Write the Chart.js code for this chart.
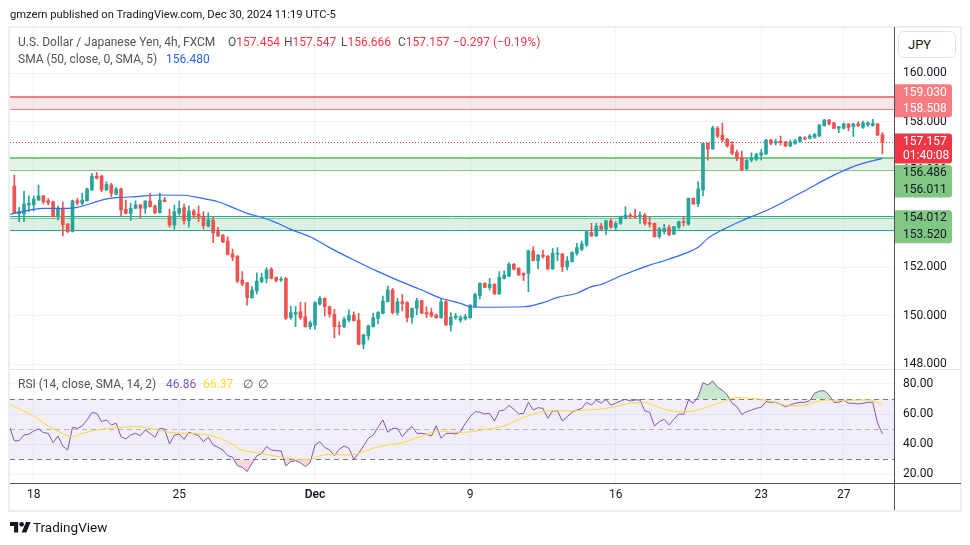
<!DOCTYPE html>
<html>
<head>
<meta charset="utf-8">
<script src="https://cdn.jsdelivr.net/npm/chart.js@4.4.1/dist/chart.umd.min.js"></script>
<style>
html,body{margin:0;padding:0;background:#fff;width:970px;height:545px;overflow:hidden;font-family:Roboto,"Noto Sans",sans-serif;}
#wrap{position:relative;width:970px;height:545px;}
canvas{position:absolute;left:0;top:0;}
.t{position:absolute;white-space:nowrap;font-size:12px;line-height:16px;color:#131722;}
.frame{position:absolute;left:8px;top:26px;width:954px;height:486px;box-sizing:border-box;border:2px solid #eceef2;}
.vline{position:absolute;left:894px;top:27px;width:1px;height:483px;background:#50535e;}
.hline{position:absolute;left:10px;top:483px;width:951px;height:1px;background:#50535e;}
.sep{position:absolute;left:10px;top:369px;width:951px;height:1px;background:#e0e3eb;}
.jpy{position:absolute;left:898px;top:31px;width:58px;height:27px;box-sizing:border-box;border:1px solid #e0e3eb;border-radius:6px;font-size:13px;line-height:25px;padding-left:9px;color:#131722;background:#fff;}
</style>
</head>
<body>
<div id="wrap">
  <div class="frame"></div>
  <canvas id="main" width="970" height="545"></canvas>
  <canvas id="rsi" width="970" height="545"></canvas>
  <div class="sep"></div>
  <div class="vline"></div>
  <div class="hline"></div>
  <div class="jpy">JPY</div>

  <div class="t" style="left:10px;top:7px;font-size:11.2px;">gmzern published on TradingView.com, Dec 30, 2024 11:19 UTC-5</div>

  <div class="t" style="left:18px;top:34px;color:#50535e;">U.S. Dollar / Japanese Yen, 4h, FXCM</div>
  <div class="t" style="left:228px;top:34px;color:#50535e;">O<span style="color:#f23645">157.454</span></div>
  <div class="t" style="left:284px;top:34px;color:#50535e;">H<span style="color:#f23645">157.547</span></div>
  <div class="t" style="left:341px;top:34px;color:#50535e;">L<span style="color:#f23645">156.666</span></div>
  <div class="t" style="left:398px;top:34px;color:#50535e;">C<span style="color:#f23645">157.157</span></div>
  <div class="t" style="left:453px;top:34px;color:#f23645;">−0.297 (−0.19%)</div>

  <div class="t" style="left:18px;top:51px;color:#50535e;">SMA (50, close, 0, SMA, 5)</div>
  <div class="t" style="left:166px;top:51px;color:#2962ff;">156.480</div>

  <div class="t" style="left:18px;top:376px;color:#50535e;">RSI (14, close, SMA, 14, 2)</div>
  <div class="t" style="left:166px;top:376px;color:#7e57c2;">46.86</div>
  <div class="t" style="left:203px;top:376px;color:#fdd835;">66.37</div>
  <div class="t" style="left:243px;top:376px;color:#50535e;">∅</div>
  <div class="t" style="left:258px;top:376px;color:#50535e;">∅</div>

  <svg style="position:absolute;left:10px;top:522px;" width="21" height="10.5" viewBox="0 4 36 18"><path d="M14 22H7V11H0V4h14v18zM28 22h-8l7.5-18h8L28 22z" fill="#131722"/><circle cx="20" cy="8" r="4" fill="#131722"/></svg>
  <div class="t" style="left:33px;top:519px;font-size:13.5px;">TradingView</div>
</div>

<script>
// ---------- DATA ----------
const candleOpen = [155.34,154.19,154.19,154.56,154.56,154.76,154.93,154.73,154.69,154.07,
154.42,153.77,153.46,154.73,154.63,154.73,155.18,155.75,155.75,155.18,
155.38,155.01,155.22,154.38,154.21,154.42,154.56,154.42,154.72,154.52,
154.24,154.76,154.10,153.73,154.21,154.45,153.91,154.31,154.19,154.07,
153.69,153.94,153.46,153.32,153.07,152.54,152.45,151.46,151.35,150.73,
151.02,151.40,151.53,151.91,151.58,151.46,151.53,149.91,150.06,150.16,
149.95,149.54,149.60,150.47,150.71,150.36,150.05,149.58,149.54,149.81,
150.02,149.81,148.81,149.16,149.54,149.88,150.09,150.57,151.05,150.12,
150.57,150.53,149.92,150.30,150.61,150.12,150.12,150.02,149.91,150.57,
149.61,149.91,149.81,149.86,149.91,150.36,150.82,151.33,151.15,151.29,
150.89,151.53,151.62,152.12,151.95,151.74,151.74,152.67,152.26,152.49,
152.45,151.92,152.53,152.54,152.01,152.22,152.56,152.73,152.91,153.42,
153.28,153.69,153.56,153.90,153.64,153.80,154.01,154.14,154.10,154.10,
154.14,153.83,153.80,153.25,153.46,153.64,153.35,153.64,153.87,153.77,
154.83,154.60,155.18,157.10,156.87,157.72,157.44,157.27,157.03,156.72,
156.52,156.05,156.41,156.44,156.62,156.66,157.24,157.12,157.19,157.17,
156.99,157.10,157.17,157.33,157.31,157.34,157.40,157.83,158.06,157.95,
157.72,157.72,157.90,157.79,157.90,157.76,157.86,157.83,157.90,157.454];

const candleHigh = [155.79,154.46,155.13,154.93,154.93,155.38,154.95,154.83,154.72,154.52,
154.69,153.80,154.76,154.83,155.04,155.25,155.86,155.90,155.79,155.52,
155.45,155.29,155.25,154.76,154.63,154.73,154.58,154.74,155.04,154.55,
155.04,154.87,154.38,154.56,154.72,154.59,154.52,154.38,154.52,154.28,
154.24,154.05,153.64,153.34,153.25,152.74,152.47,151.81,151.36,151.19,
151.76,151.74,151.97,151.97,151.58,151.58,151.56,150.39,150.37,150.54,
150.53,149.77,150.57,150.78,150.74,150.39,150.26,149.74,149.93,150.23,
150.15,150.09,149.22,149.61,150.09,150.16,150.80,151.22,151.12,150.71,
150.87,150.57,150.31,150.71,150.63,150.36,150.30,150.06,150.71,150.67,
150.12,150.09,149.99,150.05,150.45,150.92,151.35,151.35,151.53,151.31,
151.81,151.84,152.18,152.14,151.97,151.76,152.70,152.84,152.52,152.70,
152.47,152.77,152.80,152.56,152.43,152.63,152.98,153.07,153.48,153.80,
153.80,153.80,153.94,153.98,153.87,154.10,154.49,154.21,154.38,154.28,
154.21,154.05,153.82,153.64,153.76,153.73,153.68,153.90,154.07,154.85,
154.85,155.52,157.12,157.12,157.81,157.79,157.93,157.31,157.17,156.82,
156.78,156.45,156.71,156.69,156.85,157.27,157.27,157.27,157.40,157.17,
157.24,157.27,157.40,157.38,157.47,157.51,157.88,158.09,158.09,157.96,
157.80,157.95,157.91,157.93,157.99,158.02,157.99,158.09,157.92,157.547];

const candleLow = [154.20,153.87,153.87,154.28,154.31,154.74,154.60,154.56,154.05,153.94,
153.28,153.41,153.44,154.56,154.56,154.72,155.15,155.63,155.11,155.15,
154.90,154.97,154.12,154.19,153.91,154.40,154.01,154.21,154.47,154.19,
154.22,154.68,153.64,153.55,154.14,153.77,153.64,154.01,153.87,153.57,
153.64,153.00,153.25,153.00,152.49,152.26,151.35,151.22,150.43,150.71,
150.89,151.35,151.35,151.51,151.38,151.41,149.84,149.84,149.54,149.84,
149.52,149.44,149.44,150.43,149.98,149.93,149.08,149.20,149.50,149.74,
149.77,148.79,148.62,148.99,149.52,149.65,150.07,150.55,150.06,150.02,
150.19,149.74,149.68,150.02,150.07,149.91,149.93,149.88,149.88,149.59,
149.36,149.84,149.72,149.81,149.88,150.33,150.68,151.14,151.05,150.87,
150.87,151.50,151.60,151.88,151.65,151.44,150.98,152.25,151.92,152.36,
151.90,151.90,152.26,151.81,151.88,152.20,152.49,152.67,152.84,153.26,
153.26,153.54,153.32,153.60,153.50,153.76,153.99,154.01,154.01,153.80,
153.73,153.64,153.23,153.18,153.36,153.30,153.33,153.57,153.69,153.73,
154.58,154.49,154.93,156.41,156.85,157.33,157.17,156.94,156.62,156.38,
155.97,156.00,156.34,156.38,156.41,156.64,157.03,157.03,157.03,156.96,
156.96,157.06,157.14,157.24,157.28,157.31,157.38,157.81,157.86,157.70,
157.54,157.69,157.62,157.38,157.79,157.72,157.80,157.81,157.42,156.666];

const candleClose = [154.21,154.28,154.60,154.63,154.80,154.93,154.69,154.65,154.07,154.42,
153.73,153.46,154.73,154.65,154.76,155.22,155.75,155.66,155.18,155.41,
155.04,155.22,154.35,154.21,154.42,154.56,154.42,154.72,154.49,154.24,
154.76,154.70,153.73,154.28,154.42,153.91,154.31,154.14,154.05,153.70,
153.94,153.41,153.28,153.04,152.52,152.40,151.42,151.30,150.73,151.05,
151.42,151.56,151.88,151.53,151.44,151.49,149.88,150.12,150.13,149.91,
149.54,149.70,150.53,150.71,150.36,150.05,149.54,149.54,149.84,150.02,
149.79,148.81,149.20,149.57,149.91,150.12,150.60,151.05,150.12,150.57,
150.50,149.91,150.30,150.61,150.09,150.06,149.98,149.91,150.57,149.61,
149.93,149.98,149.91,149.95,150.43,150.87,151.33,151.16,151.29,150.89,
151.58,151.67,152.12,151.91,151.67,151.67,152.67,152.26,152.49,152.43,
151.92,152.56,152.56,152.01,152.26,152.61,152.80,152.95,153.46,153.28,
153.69,153.56,153.91,153.64,153.80,154.05,154.14,154.07,154.06,154.14,
153.80,153.77,153.25,153.57,153.60,153.32,153.66,153.87,153.83,154.83,
154.60,155.22,157.10,156.87,157.74,157.40,157.24,156.99,156.69,156.48,
156.00,156.40,156.48,156.65,156.71,157.24,157.10,157.18,157.13,156.99,
157.15,157.20,157.35,157.28,157.40,157.47,157.86,158.06,157.90,157.72,
157.79,157.90,157.76,157.90,157.83,157.95,157.95,157.93,157.44,157.157];

// SMA(50) line, read at sample candle indices
const smaIndex  = [-1,4,6,11,13,16,18,21,25,30,35,38,42,45,48,51,54,57,61,65,70,75,79,84,88,92,94,96,105,109,112,116,119,121,125,131,134,138,141,143,146,150,155,162,169,174,179];
const smaValues = [154.17,154.38,154.42,154.42,154.46,154.63,154.76,154.86,154.90,154.97,154.96,154.86,154.69,154.46,154.21,154.05,153.83,153.55,153.25,152.80,152.29,151.81,151.46,151.05,150.71,150.50,150.36,150.34,150.36,150.53,150.75,150.92,151.19,151.28,151.63,152.08,152.26,152.54,152.81,153.18,153.53,153.91,154.32,155.04,155.79,156.21,156.48];

// RSI(14), one value per candle starting at candle index rsiFirstIndex
const rsiFirstIndex = -1;
const rsiValues = [51.7,42.3,42.3,46.1,46.6,48.8,50.1,47.7,47.2,41.0,
45.4,38.8,36.1,51.2,50.5,52.1,56.1,61.0,60.5,55.0,
56.1,52.8,53.9,45.0,43.5,46.1,47.2,45.7,49.4,47.2,
44.6,50.5,50.1,40.1,46.1,46.8,43.2,47.9,46.8,45.7,
41.7,44.6,39.5,37.9,36.1,32.4,31.3,25.7,24.6,21.8,
27.3,32.2,33.9,38.4,36.1,35.7,35.5,25.5,28.4,29.1,
27.7,25.1,27.7,39.5,41.7,37.9,36.1,32.4,36.6,38.8,
37.3,29.9,33.9,38.8,43.9,46.1,51.2,56.1,47.9,50.5,
50.5,45.0,48.8,51.7,47.2,47.2,46.6,45.4,52.3,43.9,
47.2,47.2,46.8,48.3,53.9,58.3,61.6,
61.2,60.1,60.5,55.4,62.1,62.7,65.8,63.2,60.1,60.5,
67.8,62.7,64.3,63.8,57.2,62.1,62.1,55.4,58.3,61.2,
62.7,63.8,67.8,66.0,69.4,67.2,69.8,66.0,67.2,68.7,
69.8,68.7,69.4,69.4,62.1,61.2,52.1,55.0,56.5,52.8,
56.5,60.1,59.8,69.4,67.2,71.6,80.9,79.3,82.0,77.8,
76.0,72.7,67.2,64.9,59.8,61.6,62.7,63.8,64.5,68.3,
67.8,67.8,66.5,64.9,66.0,67.2,67.8,67.8,68.9,73.8,
75.3,75.6,72.7,67.8,67.8,69.4,67.2,67.2,66.7,67.2,
67.8,67.8,53.9,46.86];

// RSI-based MA (SMA 14), read at sample candle indices
const rsiMaIndex  = [-1,4,7,11,12,14,18,21,25,28,31,35,40,44,47,51,55,59,61,63,66,69,71,74,77,80,84,88,90,93,96,101,104,108,111,115,118,123,126,130,132,135,139,142,146,149,152,154,157,160,163,165,168,171,174,176,179];
const rsiMaValues = [66.5,58.5,52.0,45.7,45.0,47.2,49.9,51.0,51.7,50.5,48.3,47.2,46.1,41.7,36.1,33.9,31.3,29.9,29.9,32.2,33.3,32.8,33.9,37.3,39.5,41.0,45.4,48.8,47.9,47.9,49.3,52.1,56.5,61.0,62.3,62.1,62.7,64.3,66.7,67.8,65.6,62.3,61.6,63.8,68.3,70.9,70.5,69.8,67.6,65.4,66.0,68.0,69.4,68.9,69.4,69.4,66.37];

// Time axis ticks (candle index -> label)
const timeTickIndex  = [4,34,62,94,124,154,171];
const timeTickLabels = ["18","25","Dec","9","16","23","27"];
const priceTicks = [148,150,152,154,156,158,160];
const rsiTicks = [20,40,60,80];
const rsiLevels = {upper:70, middle:50, lower:30};

// Drawn zones (price ranges)
const zoneResistance = [158.508,159.030];
const zoneSupportUpper = [156.011,156.486];
const zoneSupportLower = [153.520,154.012];
const zoneSupportLowerOuter = [153.510,154.100];
const lastPrice = 157.157;
const countdownText = "01:40:08";

// ---------- CHARTS ----------
const TEAL = '#26a69a', RED = '#ef5350';
const X_MIN = -0.887, X_MAX = 181.59;
const FONT = 'Roboto, "Noto Sans", sans-serif';

const candleColors = candleClose.map((c,k)=> c >= candleOpen[k] ? TEAL : RED);
const bodies = candleOpen.map((o,k)=>({x:k, y:[Math.min(o,candleClose[k]), Math.max(o,candleClose[k])]}));
const wicks  = candleOpen.map((o,k)=>({x:k, y:[candleLow[k], candleHigh[k]]}));
const smaPoints = smaIndex.map((x,k)=>({x, y:smaValues[k]}));
const rsiPoints = rsiValues.map((v,k)=>({x:k+rsiFirstIndex, y:v}));
const rsiMaPoints = rsiMaIndex.map((x,k)=>({x, y:rsiMaValues[k]}));

function tickSetter(list){ return s => { s.ticks = list.map(v=>({value:v})); }; }

const zonesPlugin = {
  id:'zones',
  beforeDatasetsDraw(chart){
    const {ctx, chartArea:a, scales:{y}} = chart;
    ctx.save();
    ctx.beginPath(); ctx.rect(a.left, a.top, a.right-a.left, a.bottom-a.top); ctx.clip();
    const band = (r, fill) => {
      const t = y.getPixelForValue(r[1]), b = y.getPixelForValue(r[0]);
      ctx.fillStyle = fill; ctx.fillRect(a.left, t, a.right-a.left, b-t);
    };
    const line = (v, color, w) => {
      const p = Math.round(y.getPixelForValue(v)) + (w%2 ? 0.5 : 0);
      ctx.strokeStyle = color; ctx.lineWidth = w; ctx.setLineDash([]);
      ctx.beginPath(); ctx.moveTo(a.left, p); ctx.lineTo(a.right, p); ctx.stroke();
    };
    band(zoneResistance, 'rgba(242,54,69,0.12)');
    line(zoneResistance[1], '#f77c80', 2); line(zoneResistance[0], '#f77c80', 1);
    band(zoneSupportUpper, 'rgba(76,175,80,0.15)');
    line(zoneSupportUpper[1], '#81c784', 2); line(zoneSupportUpper[0], '#81c784', 1);
    band(zoneSupportLowerOuter, 'rgba(34,171,148,0.06)');
    band(zoneSupportLower, 'rgba(76,175,80,0.12)');
    line(zoneSupportLowerOuter[1], '#22ab94', 1); line(zoneSupportLowerOuter[0], '#22ab94', 1);
    line(zoneSupportLower[1], '#81c784', 1);
    // last price dotted line
    const lp = Math.round(y.getPixelForValue(lastPrice)) + 0.5;
    ctx.strokeStyle = '#f23645'; ctx.lineWidth = 1; ctx.setLineDash([1,2]);
    ctx.beginPath(); ctx.moveTo(a.left, lp); ctx.lineTo(a.right, lp); ctx.stroke();
    ctx.restore();
  }
};

function roundBox(ctx, x, y, w, h, r, color){
  ctx.fillStyle = color;
  ctx.beginPath();
  ctx.moveTo(x, y); ctx.lineTo(x+w-r, y); ctx.quadraticCurveTo(x+w, y, x+w, y+r);
  ctx.lineTo(x+w, y+h-r); ctx.quadraticCurveTo(x+w, y+h, x+w-r, y+h);
  ctx.lineTo(x, y+h); ctx.closePath(); ctx.fill();
}

const priceLabelPlugin = {
  id:'priceLabels',
  afterDraw(chart){
    const {ctx, chartArea:a, scales:{y}} = chart;
    const bx = a.right, bw = 57, tx = a.right + 8;
    ctx.save();
    ctx.font = '12px ' + FONT; ctx.textBaseline = 'middle'; ctx.textAlign = 'left';
    // resistance pair
    let t2 = y.getPixelForValue(zoneResistance[0]), t1 = t2 - 16;
    roundBox(ctx, bx, t1-9, bw, t2-t1+17, 3, '#f77c80');
    ctx.fillStyle = '#ffffff';
    ctx.fillText(zoneResistance[1].toFixed(3), tx, t1); ctx.fillText(zoneResistance[0].toFixed(3), tx, t2);
    // last price
    const lp = y.getPixelForValue(lastPrice);
    roundBox(ctx, bx, lp-8.5, bw, 30, 3, '#f23645');
    ctx.fillStyle = '#ffffff';
    ctx.fillText(lastPrice.toFixed(3), tx, lp); ctx.fillText(countdownText, tx, lp+14);
    const lpBottom = lp + 21.5;
    // upper support pair
    let g1 = Math.max(y.getPixelForValue(zoneSupportUpper[1]), lpBottom + 9.5);
    let g2 = Math.max(y.getPixelForValue(zoneSupportUpper[0]), g1 + 16.6);
    roundBox(ctx, bx, g1-8, bw, g2-g1+16, 3, '#81c784');
    ctx.fillStyle = '#131722';
    ctx.fillText(zoneSupportUpper[1].toFixed(3), tx, g1); ctx.fillText(zoneSupportUpper[0].toFixed(3), tx, g2);
    // lower support pair
    let h1 = y.getPixelForValue(zoneSupportLower[1]);
    let h2 = Math.max(y.getPixelForValue(zoneSupportLower[0]), h1 + 16.6);
    roundBox(ctx, bx, h1-8, bw, h2-h1+16.5, 3, '#81c784');
    ctx.fillStyle = '#131722';
    ctx.fillText(zoneSupportLower[1].toFixed(3), tx, h1); ctx.fillText(zoneSupportLower[0].toFixed(3), tx, h2);
    ctx.restore();
  }
};

new Chart(document.getElementById('main'), {
  type:'bar',
  data:{datasets:[
    {type:'line', data:smaPoints, borderColor:'#2f6bff', borderWidth:1.2, pointRadius:0, cubicInterpolationMode:'monotone', order:0},
    {type:'bar', data:bodies, backgroundColor:candleColors, barThickness:3, minBarLength:1, grouped:false, order:1},
    {type:'bar', data:wicks, backgroundColor:candleColors, barThickness:1, grouped:false, order:2}
  ]},
  options:{
    responsive:false, animation:false, devicePixelRatio:1,
    layout:{padding:{left:10, top:28, right:8, bottom:176}},
    plugins:{legend:{display:false}, tooltip:{enabled:false}},
    scales:{
      x:{type:'linear', min:X_MIN, max:X_MAX, offset:false,
         grid:{color:'#f0f3fa', drawTicks:false, offset:false}, border:{display:false},
         ticks:{display:false}, afterBuildTicks:tickSetter(timeTickIndex),
         afterFit:s=>{s.height=0; s.paddingLeft=0; s.paddingRight=0;}},
      y:{position:'right', min:147.794, max:161.856,
         grid:{color:'#f0f3fa', drawTicks:false}, border:{display:false},
         ticks:{padding:8, color:'#131722', font:{size:12, family:FONT}, callback:v=>Number(v).toFixed(3)},
         afterBuildTicks:tickSetter(priceTicks),
         afterFit:s=>{s.width=67; s.paddingTop=0; s.paddingBottom=0;}}
    }
  },
  plugins:[zonesPlugin, priceLabelPlugin]
});

const rsiBandPlugin = {
  id:'rsiBand',
  beforeDatasetsDraw(chart){
    const {ctx, chartArea:a, scales:{y}} = chart;
    const t = y.getPixelForValue(rsiLevels.upper), b = y.getPixelForValue(rsiLevels.lower);
    ctx.save();
    ctx.fillStyle = 'rgba(126,87,194,0.1)';
    ctx.fillRect(a.left, t, a.right-a.left, b-t);
    const dash = (v, color) => {
      const p = Math.round(y.getPixelForValue(v)) + 0.5;
      ctx.strokeStyle = color; ctx.lineWidth = 1; ctx.setLineDash([5,4]);
      ctx.beginPath(); ctx.moveTo(a.left, p); ctx.lineTo(a.right, p); ctx.stroke();
    };
    dash(rsiLevels.upper, '#787b86'); dash(rsiLevels.lower, '#787b86'); dash(rsiLevels.middle, 'rgba(120,123,134,0.5)');
    ctx.restore();
  }
};

new Chart(document.getElementById('rsi'), {
  type:'line',
  data:{datasets:[
    {data:rsiMaPoints, borderColor:'#fdd835', borderWidth:1, pointRadius:0, cubicInterpolationMode:'monotone', order:0},
    {data:rsiPoints, borderColor:'#7e57c2', borderWidth:1, pointRadius:0,
     fill:{target:{value:rsiLevels.upper}, above:'rgba(76,175,80,0.3)', below:'rgba(0,0,0,0)'}, order:1},
    {data:rsiPoints, borderColor:'rgba(0,0,0,0)', borderWidth:0, pointRadius:0,
     fill:{target:{value:rsiLevels.lower}, above:'rgba(0,0,0,0)', below:'rgba(242,54,69,0.2)'}, order:2}
  ]},
  options:{
    responsive:false, animation:false, devicePixelRatio:1,
    layout:{padding:{left:10, top:370, right:8, bottom:35}},
    plugins:{legend:{display:false}, tooltip:{enabled:false}},
    scales:{
      x:{type:'linear', min:X_MIN, max:X_MAX, offset:false,
         grid:{color:'#f0f3fa', drawTicks:false}, border:{display:false},
         ticks:{padding:5, color:'#131722', maxRotation:0, autoSkip:false,
                font:c=>({size:12, family:FONT, weight:(c.tick && c.tick.label==='Dec') ? '600' : '400'}),
                callback:v=>{const k=timeTickIndex.indexOf(v); return k>=0 ? timeTickLabels[k] : '';}},
         afterBuildTicks:tickSetter(timeTickIndex),
         afterFit:s=>{s.height=27; s.paddingLeft=0; s.paddingRight=0;}},
      y:{position:'right', min:14.2, max:89.3,
         grid:{color:'#f0f3fa', drawTicks:false}, border:{display:false},
         ticks:{padding:8, color:'#131722', font:{size:12, family:FONT}, callback:v=>Number(v).toFixed(2)},
         afterBuildTicks:tickSetter(rsiTicks),
         afterFit:s=>{s.width=67; s.paddingTop=0; s.paddingBottom=0;}}
    }
  },
  plugins:[rsiBandPlugin]
});
</script>
</body>
</html>
